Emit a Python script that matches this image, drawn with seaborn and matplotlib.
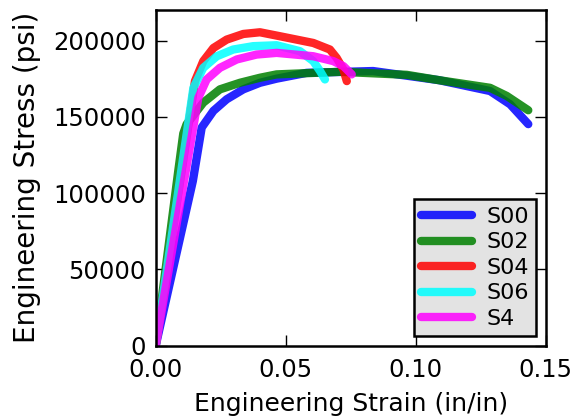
import numpy as np
import pandas as pd
import matplotlib
matplotlib.use("Agg")
import matplotlib.pyplot as plt
import seaborn as sns

# Data
s00_strain = [0.0, 0.0143, 0.0177, 0.0222, 0.0273, 0.0337, 0.0401, 0.0465, 0.058, 0.0836,
              0.109, 0.1286, 0.1363, 0.1433]
s00_stress = [0, 108000, 143000, 153900, 161500, 168000, 172300, 175000, 178800, 180000,
              174000, 166900, 158200, 145200]

s02_strain = [0.0, 0.0087, 0.0106, 0.0119, 0.0183, 0.0247, 0.0324, 0.0401, 0.0465, 0.071,
              0.0966, 0.109, 0.1286, 0.135, 0.1433]
s02_stress = [0, 114800, 139000, 145200, 159300, 168000, 172300, 175600, 177800, 179500,
              177500, 174000, 169000, 163700, 154300]

s04_strain = [0.0, 0.0151, 0.0183, 0.0222, 0.0273, 0.0337, 0.0401, 0.0478, 0.0606, 0.067,
              0.0696, 0.0722, 0.0735]
s04_stress = [0, 173400, 186500, 195100, 200600, 204300, 205400, 202800, 198400, 194100,
              188600, 181000, 173400]

s06_strain = [0.0, 0.0145, 0.0183, 0.0235, 0.0298, 0.0375, 0.0465, 0.0555, 0.0606, 0.0632,
              0.0651]
s06_stress = [0, 169000, 182100, 189700, 194100, 196300, 196900, 193000, 186500, 180000,
              174500]

s4_strain = [0.0, 0.0164, 0.0196, 0.0247, 0.0312, 0.0388, 0.0465, 0.0606, 0.0683, 0.0722,
             0.0754]
s4_stress = [0, 162500, 174500, 182100, 187600, 190800, 191900, 189700, 186500, 183200,
             177800]

names = ["S00", "S02", "S04", "S06", "S4"]
strains = [s00_strain, s02_strain, s04_strain, s06_strain, s4_strain]
stresses = [s00_stress, s02_stress, s04_stress, s06_stress, s4_stress]
colors = ["#0000ff", "#008000", "#ff0000", "#00ffff", "#ff00ff"]

x_ticks = [0.0, 0.05, 0.10, 0.15]
x_tick_labels = ["0.00", "0.05", "0.10", "0.15"]
y_ticks = [0, 50000, 100000, 150000, 200000]

frames = []
for n, xs, ys in zip(names, strains, stresses):
    frames.append(pd.DataFrame({"strain": xs, "stress": ys, "sample": n}))
df = pd.concat(frames, ignore_index=True)

sns.set_style("white")
plt.rcParams["font.family"] = ["DejaVu Sans"]
plt.rcParams["text.color"] = "black"

fig = plt.figure(figsize=(5.78, 4.17), dpi=100)
ax = fig.add_axes([155.7 / 578, 1 - 345.7 / 417, 390 / 578, 335.7 / 417])

sns.lineplot(data=df, x="strain", y="stress", hue="sample", hue_order=names,
             palette=colors, sort=False, estimator=None, units="sample",
             linewidth=6, alpha=0.85, ax=ax, legend=True)

ax.set_xlim(0, 0.15)
ax.set_ylim(0, 220000)
ax.set_xticks(x_ticks)
ax.set_xticklabels(x_tick_labels)
ax.set_yticks(y_ticks)
ax.set_yticklabels([str(v) for v in y_ticks])
ax.tick_params(direction="in", length=8, width=1, labelsize=17.5, top=True,
               right=True, bottom=True, left=True, colors="black",
               labelcolor="black")
ax.tick_params(axis="x", pad=9)
ax.tick_params(axis="y", pad=7)
for sp in ax.spines.values():
    sp.set_visible(True)
    sp.set_linewidth(1.8)
    sp.set_color("black")

ax.set_xlabel("Engineering Strain (in/in)", fontsize=18, labelpad=7, color="black")
ax.set_ylabel("Engineering Stress (psi)", fontsize=20, labelpad=9, color="black")

leg = ax.legend(loc="lower right", fontsize=16, frameon=True, fancybox=False,
                handlelength=2.3, handletextpad=0.65, labelspacing=0.25,
                borderpad=0.33, borderaxespad=0.42)
leg.get_frame().set_facecolor("#e3e3e3")
leg.get_frame().set_edgecolor("black")
leg.get_frame().set_linewidth(1.8)
leg.get_frame().set_alpha(1)
for line in leg.get_lines():
    line.set_linewidth(6)
for t in leg.get_texts():
    t.set_color("black")

fig.savefig("out.png", dpi=100)
